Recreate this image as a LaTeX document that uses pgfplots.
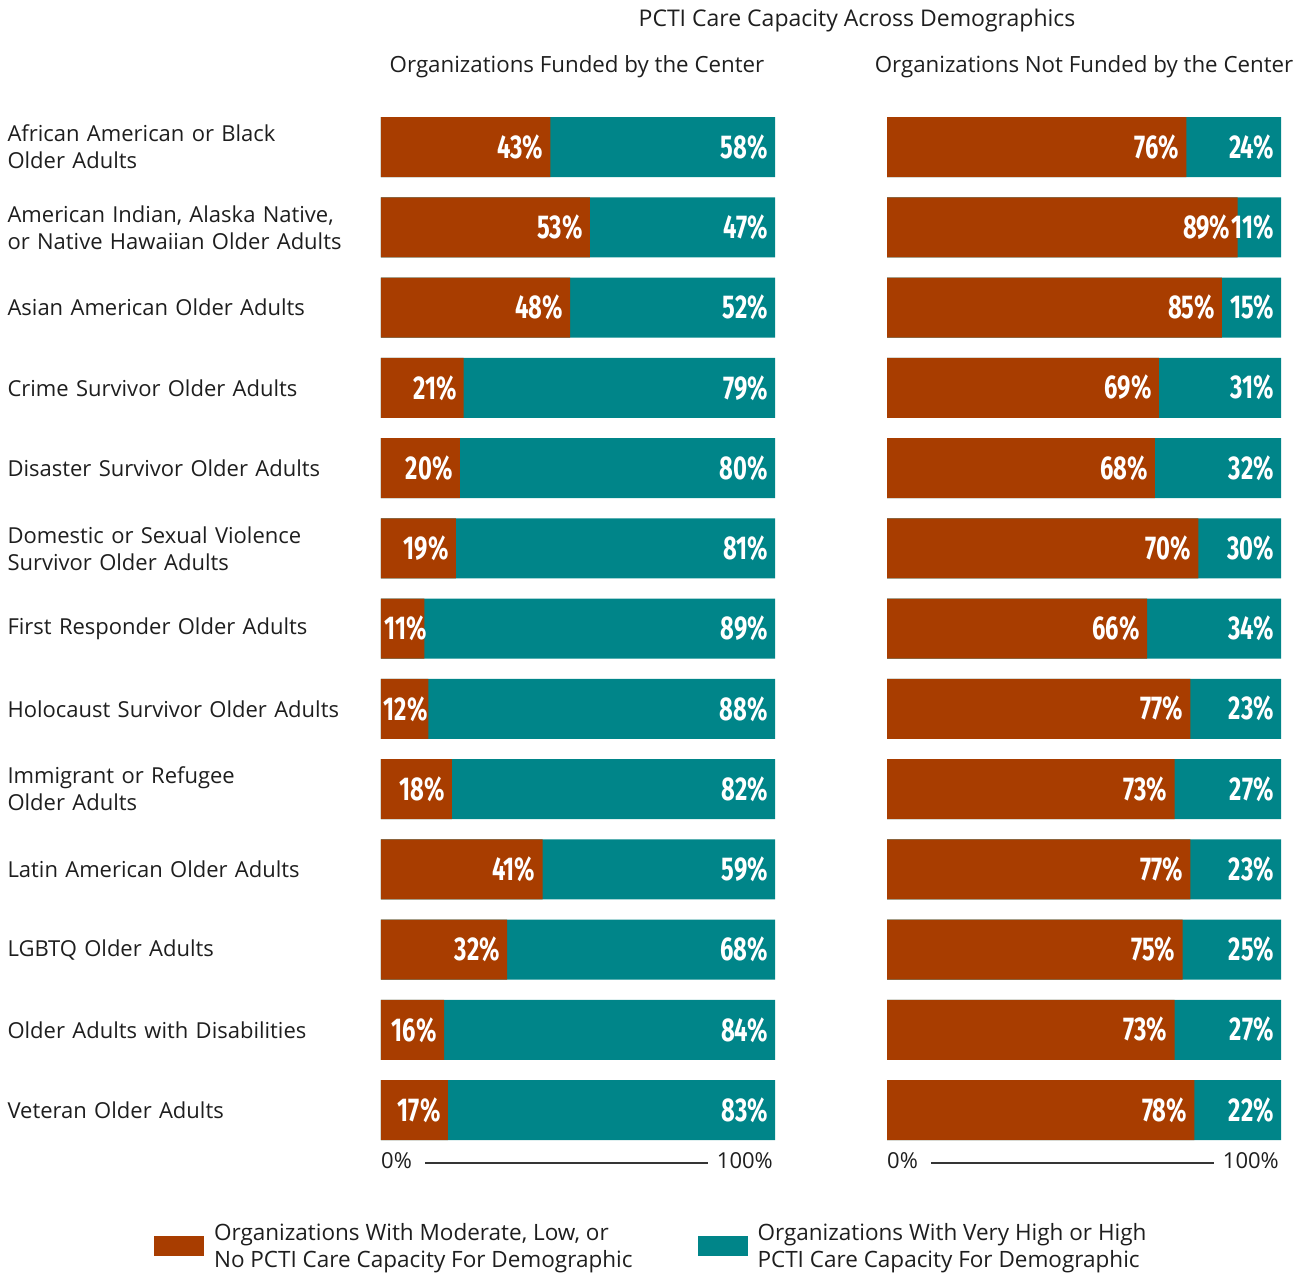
\documentclass[border=0pt]{standalone}
\usepackage{pgfplots}
\pgfplotsset{compat=1.18}
\usepackage{pgfplotstable}
\usepackage{fontspec}
\setmainfont{Open Sans}
\newfontfamily\valfont{Fira Sans}[FakeStretch=0.72]
\definecolor{rust}{HTML}{A83D00}
\definecolor{tealc}{HTML}{008589}
\definecolor{txt}{HTML}{1E1E1E}

% y: row, rv: rust bar length, rl: rust label, rx: rust label right edge, tl: teal label
\pgfplotstableread{
y rv rl rx tl
0 43 43 41.2 58
1 53 53 51.2 47
2 48 48 46.2 52
3 21 21 19.2 79
4 20 20 18.2 80
5 19 19 17.2 81
6 11 11 11.7 89
7 12 12 11.9 88
8 18 18 16.2 82
9 41 41 39.2 59
10 32 32 30.2 68
11 16 16 14.2 84
12 17 17 15.2 83
}\leftdata

\pgfplotstableread{
y rv rl rx tl
0 76 76 74.2 24
1 89 89 87.2 11
2 85 85 83.2 15
3 69 69 67.2 31
4 68 68 66.2 32
5 79 70 77.2 30
6 66 66 64.2 34
7 77 77 75.2 23
8 73 73 71.2 27
9 77 77 75.2 23
10 75 75 73.2 25
11 73 73 71.2 27
12 78 78 76.2 22
}\rightdata

\newcommand{\lblfont}{\fontsize{22}{27}\selectfont}
\newcommand{\legfont}{\fontsize{22.5}{27}\selectfont}
\newcommand{\vfont}{\valfont\bfseries\fontsize{33}{33}\selectfont}

\pgfplotsset{
  panel/.style={
    scale only axis,
    width=394pt, height=1043.25pt,
    anchor=south west,
    xmin=0, xmax=100, ymin=-0.5, ymax=12.5,
    y dir=reverse,
    axis line style={draw=none},
    tick style={draw=none},
    xtick=\empty,
    clip=false,
    xbar, bar width=60pt, bar shift=0pt,
  },
  lbl/.style={
    xbar=0pt, draw=none, only marks, mark size=0pt,
    point meta=explicit symbolic,
    nodes near coords={\pgfplotspointmeta\%},
    every node near coord/.append style={anchor=east, font=\vfont, text=white, inner sep=0pt},
  },
}

\begin{document}
\begin{tikzpicture}
\path[use as bounding box] (0,0) rectangle (1309pt,-1272pt);

\node[font=\fontsize{23}{27}\selectfont, text=txt] at (857pt,-21pt) {PCTI Care Capacity Across Demographics};
\node[font=\fontsize{22.3}{27}\selectfont, text=txt] at (577pt,-67pt) {Organizations Funded by the Center};
\node[font=\fontsize{22.3}{27}\selectfont, text=txt] at (1084pt,-67pt) {Organizations Not Funded by the Center};

\begin{axis}[panel,
  at={(381pt,-1150.125pt)},
  ytick={0,...,12},
  yticklabels={
    {African American or Black\\Older Adults},
    {American Indian, Alaska Native,\\or Native Hawaiian Older Adults},
    {Asian American Older Adults},
    {Crime Survivor Older Adults},
    {Disaster Survivor Older Adults},
    {Domestic or Sexual Violence\\Survivor Older Adults},
    {First Responder Older Adults},
    {Holocaust Survivor Older Adults},
    {Immigrant or Refugee\\Older Adults},
    {Latin American Older Adults},
    {LGBTQ Older Adults},
    {Older Adults with Disabilities},
    {Veteran Older Adults}},
  yticklabel style={text width=369pt, align=left, anchor=east, inner sep=0pt, font=\lblfont, text=txt},
  legend style={at={(axis description cs:-0.576,-0.0919)}, anchor=west, draw=none, fill=none,
    inner sep=0pt, outer sep=0pt, font=\legfont, text=txt,
    legend columns=2,
    /tikz/every odd column/.append style={column sep=8pt},
    /tikz/every even column/.append style={column sep=63pt},
    cells={align=left, anchor=west}},
  legend image code/.code={\fill[#1, draw=none] (0pt,-10pt) rectangle (50pt,10pt);},
]
\addlegendimage{fill=rust}
\addlegendimage{fill=tealc}
\addplot[fill=tealc, draw=none] table[x expr=100, y=y] {\leftdata};
\addplot[fill=rust, draw=none] table[x=rv, y=y] {\leftdata};
\addplot[lbl] table[x=rx, y=y, meta=rl] {\leftdata};
\addplot[lbl] table[x expr=98.22, y=y, meta=tl] {\leftdata};
\legend{{Organizations With Moderate, Low, or\\No PCTI Care Capacity For Demographic},
        {Organizations With Very High or High\\PCTI Care Capacity For Demographic}}
\end{axis}

\begin{axis}[panel,
  at={(887pt,-1150.125pt)},
  ytick=\empty,
]
\addplot[fill=tealc, draw=none] table[x expr=100, y=y] {\rightdata};
\addplot[fill=rust, draw=none] table[x=rv, y=y] {\rightdata};
\addplot[lbl] table[x=rx, y=y, meta=rl] {\rightdata};
\addplot[lbl] table[x expr=98.22, y=y, meta=tl] {\rightdata};
\end{axis}

% 0% -- 100% scale annotations
\foreach \xo in {381,887}{
  \node[font=\lblfont, text=txt, anchor=west, inner sep=0pt] at (\xo pt,-1161pt) {0\%};
  \draw[line width=2.5pt, color=txt!90] ({(\xo+44)*1pt},-1163pt) -- ({(\xo+327)*1pt},-1163pt);
  \node[font=\lblfont, text=txt, anchor=east, inner sep=0pt] at ({(\xo+392)*1pt},-1161pt) {100\%};
}
\end{tikzpicture}
\end{document}
